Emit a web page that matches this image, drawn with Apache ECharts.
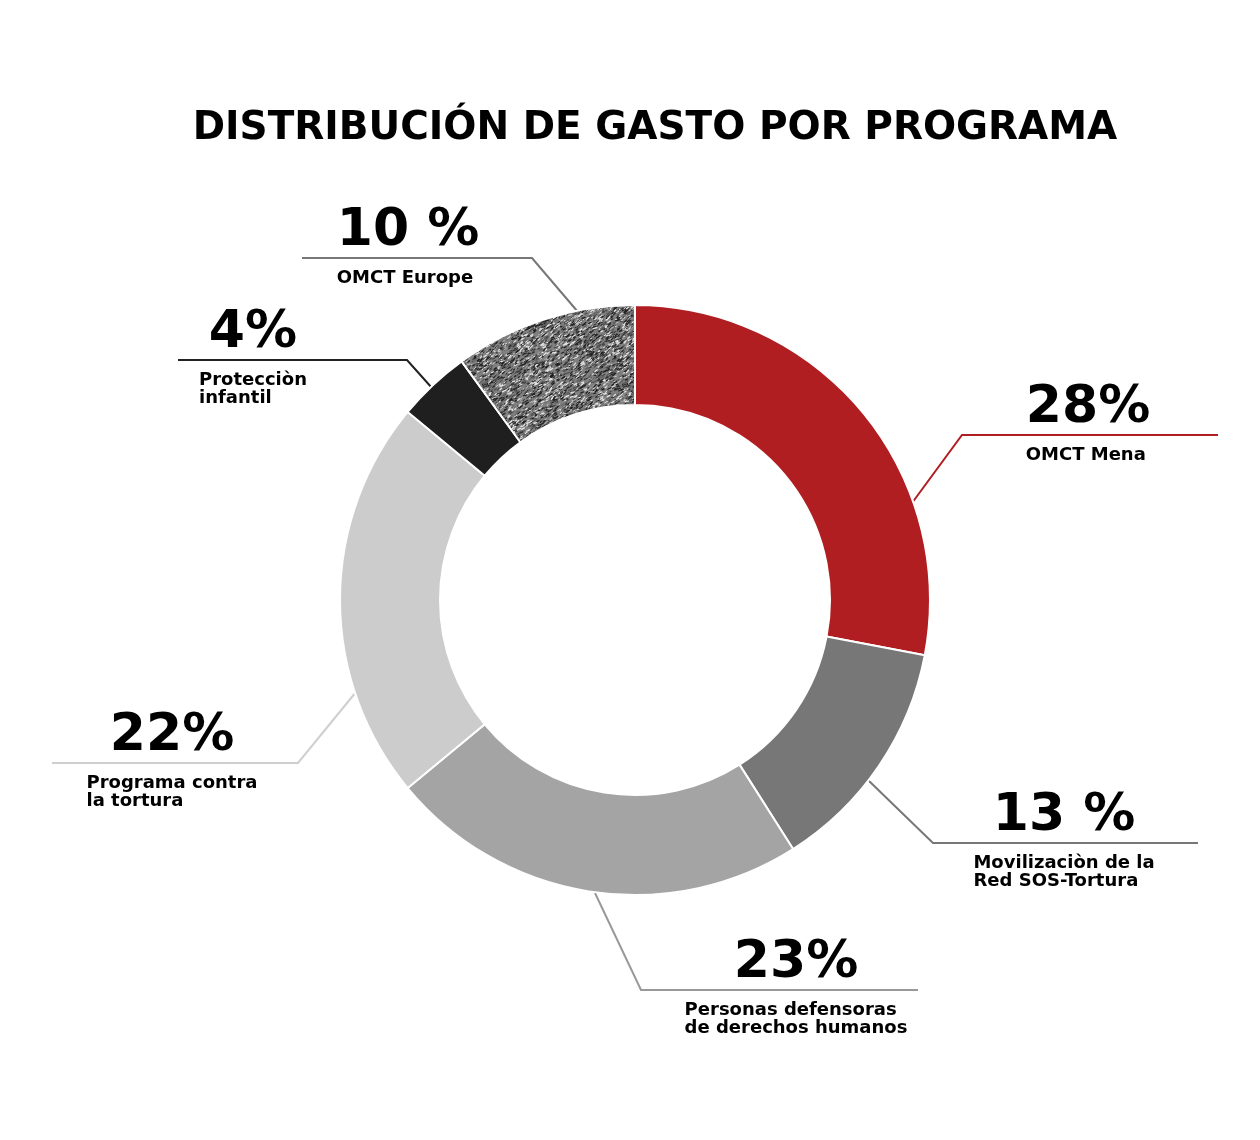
<!DOCTYPE html>
<html>
<head>
<meta charset="utf-8">
<script src="https://cdn.jsdelivr.net/npm/echarts@6/dist/echarts.min.js"></script>
<style>
  html, body { margin: 0; padding: 0; background: #fff; }
  #chart { width: 1260px; height: 1140px; }
</style>
</head>
<body>
<div id="chart"></div>
<script>
// datos
const programas = ['OMCT Mena', 'Movilización', 'Personas defensoras', 'Programa contra la tortura', 'Protección infantil', 'OMCT Europe']
const valores = [28, 13, 23, 22, 4, 10]
const etiquetasPct = ['28%', '13 %', '23%', '22%', '4%', '10 %']
const subtitulos = [
  'OMCT Mena',
  'Movilizaciòn de la\nRed SOS-Tortura',
  'Personas defensoras\nde derechos humanos',
  'Programa contra\nla tortura',
  'Protecciòn\ninfantil',
  'OMCT Europe'
]

const FONT = '"DejaVu Sans", sans-serif'

// textura tipo ruido para OMCT Europe
function noiseCanvas() {
  const size = 140
  const c = document.createElement('canvas')
  c.width = size
  c.height = size
  const ctx = c.getContext('2d')
  ctx.fillStyle = '#808080'
  ctx.fillRect(0, 0, size, size)
  let seed = 98765
  const rnd = () => {
    seed = (seed * 1103515245 + 12345) & 0x7fffffff
    return seed / 0x7fffffff
  }
  ctx.lineCap = 'round'
  for (let i = 0; i < 5200; i++) {
    const x = rnd() * size
    const y = rnd() * size
    const r = rnd()
    ctx.strokeStyle = r < 0.42 ? '#202020' : (r < 0.72 ? '#e6e6e6' : '#5e5e5e')
    ctx.lineWidth = 0.6 + rnd() * 0.8
    const len = 1 + rnd() * 2.5
    const a = -0.9 + rnd() * 0.6
    ctx.beginPath()
    ctx.moveTo(x, y)
    ctx.lineTo(x + Math.cos(a) * len, y + Math.sin(a) * len)
    ctx.stroke()
  }
  return c
}

const colores = ['#b01e22', '#777777', '#a4a4a4', '#cccccc', '#1f1f1f', { image: noiseCanvas(), repeat: 'repeat' }]
const coloresLinea = ['#b01e22', '#777777', '#999999', '#cfcfcf', '#222222', '#777777']

// posiciones de etiquetas: centro x, y de la línea, puntos de la línea guía
const LABEL_POS = [
  { x: 1088, lineY: 435, pts: [[912, 503], [962, 435], [1218, 435]] },
  { x: 1064, lineY: 843, pts: [[868, 780], [933, 843], [1198, 843]] },
  { x: 796, lineY: 990, pts: [[595, 893], [641, 990], [918, 990]] },
  { x: 172, lineY: 763, pts: [[356, 692], [298, 763], [52, 763]] },
  { x: 253, lineY: 360, pts: [[432, 388], [407, 360], [178, 360]] },
  { x: 408, lineY: 258, pts: [[578, 312], [532, 258], [302, 258]] }
]
const NUM_LH = 54
const GAP_LH = 11

const chart = echarts.init(document.getElementById('chart'))

chart.setOption({
  backgroundColor: '#ffffff',
  title: {
    text: 'DISTRIBUCIÓN DE GASTO POR PROGRAMA',
    left: 650,
    top: 104,
    textAlign: 'center',
    textStyle: {
      fontFamily: FONT,
      fontSize: 39,
      fontWeight: 'bold',
      color: '#000'
    }
  },
  series: [{
    type: 'pie',
    center: [635, 600],
    radius: [195, 295],
    startAngle: 90,
    clockwise: true,
    avoidLabelOverlap: false,
    itemStyle: {
      borderColor: '#ffffff',
      borderWidth: 2
    },
    label: {
      show: true,
      position: 'outside',
      formatter: (p) => `{num|${etiquetasPct[p.dataIndex]}}\n{gap| }\n{sub|${subtitulos[p.dataIndex].split('\n').join('}\n{sub|')}}`,
      rich: {
        num: {
          fontFamily: FONT,
          fontSize: 52,
          fontWeight: 'bold',
          color: '#000',
          lineHeight: NUM_LH,
          align: 'center'
        },
        gap: {
          fontSize: 2,
          lineHeight: GAP_LH
        },
        sub: {
          fontFamily: FONT,
          fontSize: 18,
          fontWeight: 'bold',
          color: '#000',
          lineHeight: 18,
          align: 'left'
        }
      }
    },
    labelLine: {
      show: true,
      lineStyle: { width: 2 }
    },
    labelLayout: (params) => {
      const pos = LABEL_POS[params.dataIndex]
      return {
        x: pos.x,
        y: pos.lineY - NUM_LH,
        align: 'center',
        verticalAlign: 'top',
        labelLinePoints: pos.pts
      }
    },
    emphasis: { disabled: true },
    data: programas.map((name, i) => ({
      name,
      value: valores[i],
      itemStyle: { color: colores[i] },
      labelLine: { lineStyle: { color: coloresLinea[i] } }
    }))
  }]
})
</script>
</body>
</html>
